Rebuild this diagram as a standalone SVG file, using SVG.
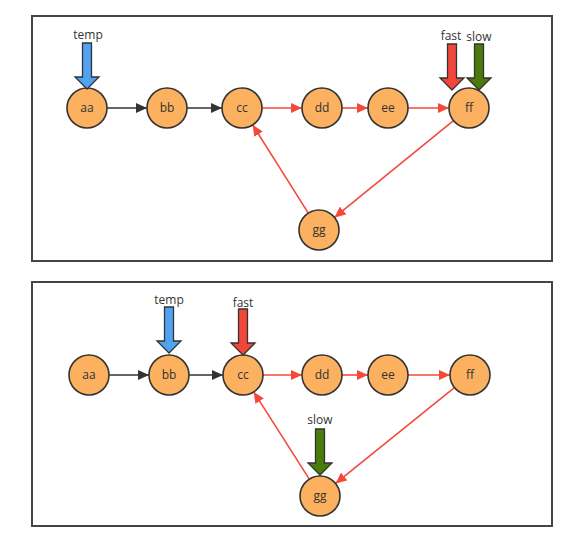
<svg xmlns="http://www.w3.org/2000/svg" width="578" height="537" viewBox="0 0 578 537">
<style>
.panel{fill:#fff;stroke:#444;stroke-width:2}
.node circle{fill:#FBB15F;stroke:#333;stroke-width:1.6}
.node text{font-family:"Open Sans","Liberation Sans",sans-serif;font-size:12px;fill:#333;text-anchor:middle}
.lbl{font-family:"Open Sans","Liberation Sans",sans-serif;font-size:12px;fill:#333;text-anchor:middle}
.blk{stroke:#333;stroke-width:1.6;fill:none}
.red{stroke:#F5483B;stroke-width:1.6;fill:none}
.ptr{stroke:#333;stroke-width:1.3;stroke-linejoin:miter}
</style>
<defs>
<marker id="mb" markerUnits="userSpaceOnUse" markerWidth="12" markerHeight="10" refX="11" refY="5" orient="auto"><path d="M0,0 L11,5 L0,10 Z" fill="#333"/></marker>
<marker id="mr" markerUnits="userSpaceOnUse" markerWidth="12" markerHeight="10" refX="11" refY="5" orient="auto"><path d="M0,0 L11,5 L0,10 Z" fill="#F5483B"/></marker>
<path id="pt" d="M-4.5,-46 L4.5,-46 L4.5,-12 L12,-12 L0,0 L-12,-12 L-4.5,-12 Z"/>
</defs>
<rect class="panel" x="32" y="16" width="520" height="245"/>
<rect class="panel" x="32" y="282" width="520" height="244"/>
<g id="connectors">
<line class="blk" x1="107" y1="108" x2="147" y2="108" marker-end="url(#mb)"/>
<line class="blk" x1="187" y1="108" x2="222" y2="108" marker-end="url(#mb)"/>
<line class="red" x1="262" y1="108" x2="302" y2="108" marker-end="url(#mr)"/>
<line class="red" x1="342" y1="108" x2="368" y2="108" marker-end="url(#mr)"/>
<line class="red" x1="408" y1="108" x2="449" y2="108" marker-end="url(#mr)"/>
<line class="red" x1="453.5" y1="120.6" x2="334.5" y2="217.4" marker-end="url(#mr)"/>
<line class="red" x1="308.3" y1="213.1" x2="252.7" y2="124.9" marker-end="url(#mr)"/>
<line class="blk" x1="109" y1="375" x2="149" y2="375" marker-end="url(#mb)"/>
<line class="blk" x1="189" y1="375" x2="223" y2="375" marker-end="url(#mb)"/>
<line class="red" x1="263" y1="375" x2="302" y2="375" marker-end="url(#mr)"/>
<line class="red" x1="342" y1="375" x2="368" y2="375" marker-end="url(#mr)"/>
<line class="red" x1="408" y1="375" x2="450" y2="375" marker-end="url(#mr)"/>
<line class="red" x1="454.4" y1="387.6" x2="335.6" y2="483.4" marker-end="url(#mr)"/>
<line class="red" x1="309.3" y1="479.1" x2="253.7" y2="391.9" marker-end="url(#mr)"/>
</g>
<g id="t-aa" class="node"><circle cx="87" cy="108" r="20"/><text x="87" y="112">aa</text></g>
<g id="t-bb" class="node"><circle cx="167" cy="108" r="20"/><text x="167" y="112">bb</text></g>
<g id="t-cc" class="node"><circle cx="242" cy="108" r="20"/><text x="242" y="112">cc</text></g>
<g id="t-dd" class="node"><circle cx="322" cy="108" r="20"/><text x="322" y="112">dd</text></g>
<g id="t-ee" class="node"><circle cx="388" cy="108" r="20"/><text x="388" y="112">ee</text></g>
<g id="t-ff" class="node"><circle cx="469" cy="108" r="20"/><text x="469" y="112">ff</text></g>
<g id="t-gg" class="node"><circle cx="319" cy="230" r="20"/><text x="319" y="234">gg</text></g>
<g id="b-aa" class="node"><circle cx="89" cy="375" r="20"/><text x="89" y="379">aa</text></g>
<g id="b-bb" class="node"><circle cx="169" cy="375" r="20"/><text x="169" y="379">bb</text></g>
<g id="b-cc" class="node"><circle cx="243" cy="375" r="20"/><text x="243" y="379">cc</text></g>
<g id="b-dd" class="node"><circle cx="322" cy="375" r="20"/><text x="322" y="379">dd</text></g>
<g id="b-ee" class="node"><circle cx="388" cy="375" r="20"/><text x="388" y="379">ee</text></g>
<g id="b-ff" class="node"><circle cx="470" cy="375" r="20"/><text x="470" y="379">ff</text></g>
<g id="b-gg" class="node"><circle cx="320" cy="496" r="20"/><text x="320" y="500">gg</text></g>
<g id="t-temp"><use href="#pt" class="ptr" fill="#4FA3F0" transform="translate(87,89)"/><text class="lbl" x="88" y="39">temp</text></g>
<g id="t-fast"><use href="#pt" class="ptr" fill="#F0473A" transform="translate(452,90)"/><text class="lbl" x="451" y="40">fast</text></g>
<g id="t-slow"><use href="#pt" class="ptr" fill="#4A7C0C" transform="translate(479,90)"/><text class="lbl" x="479" y="41">slow</text></g>
<g id="b-temp"><use href="#pt" class="ptr" fill="#4FA3F0" transform="translate(169,353)"/><text class="lbl" x="169" y="304">temp</text></g>
<g id="b-fast"><use href="#pt" class="ptr" fill="#F0473A" transform="translate(243,355)"/><text class="lbl" x="243" y="307">fast</text></g>
<g id="b-slow"><use href="#pt" class="ptr" fill="#4A7C0C" transform="translate(320,475)"/><text class="lbl" x="320" y="424">slow</text></g>
</svg>
